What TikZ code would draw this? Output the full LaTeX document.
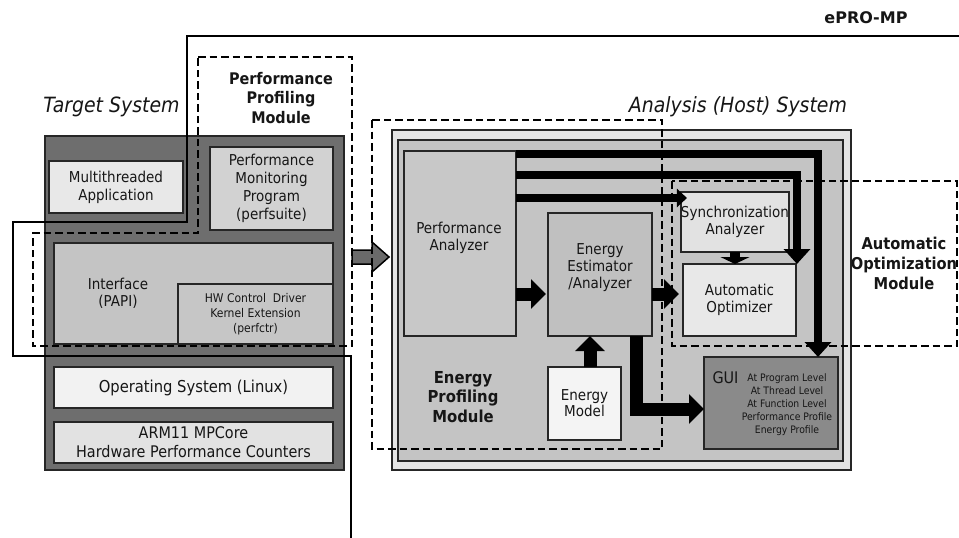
\documentclass[tikz,border=0pt]{standalone}
\usepackage{fontspec}
\setmainfont{DejaVu Sans Condensed}
\newfontfamily\widefont{DejaVu Sans}
\usetikzlibrary{arrows.meta,calc}
\definecolor{txt}{HTML}{161616}
\definecolor{bord}{HTML}{262626}
\definecolor{tgtfill}{HTML}{6E6E6E}
\definecolor{mtafill}{HTML}{E8E8E8}
\definecolor{pmpfill}{HTML}{D2D2D2}
\definecolor{papifill}{HTML}{C4C4C4}
\definecolor{hwfill}{HTML}{C6C6C6}
\definecolor{osfill}{HTML}{F2F2F2}
\definecolor{armfill}{HTML}{E2E2E2}
\definecolor{anaout}{HTML}{E4E4E4}
\definecolor{anain}{HTML}{C4C4C4}
\definecolor{pafill}{HTML}{C8C8C8}
\definecolor{eefill}{HTML}{C0C0C0}
\definecolor{emfill}{HTML}{F4F4F4}
\definecolor{safill}{HTML}{E2E2E2}
\definecolor{aofill}{HTML}{E8E8E8}
\definecolor{guifill}{HTML}{8A8A8A}
\definecolor{arrgray}{HTML}{6A6A6A}
\newcommand\myfs[2]{\fontsize{#1}{#2}\selectfont}
\begin{document}
\begin{tikzpicture}[x=1pt,y=-1pt,
  every node/.style={inner sep=0pt, outer sep=0pt, text=txt},
  box/.style={draw=bord, line width=1.5pt, align=center, font=\myfs{15}{18}},
  lbl/.style={align=center, font=\myfs{15}{17}},
  title/.style={align=center, font=\bfseries\myfs{16.5}{19.5}},
  systitle/.style={font=\itshape\myfs{21}{24}},
  modline/.style={draw=black, line width=2.3pt, dash pattern=on 7.5pt off 4pt, line join=miter},
  epro/.style={draw=black, line width=2.3pt, line join=miter},
  bigarr/.style={draw=black, line width=8pt, line join=miter, -{Triangle[width=26pt,length=15pt]}},
  medarr/.style={draw=black, line width=8pt, -{Triangle[width=18pt,length=10pt]}},
  blockarr/.style={draw=black, line width=13pt, line join=miter, -{Triangle[width=29pt,length=15pt]}},
  smallblock/.style={draw=black, line width=10pt, -{Triangle[width=29pt,length=7pt]}},
]
\useasboundingbox (0,0) rectangle (959,538);
\fill[white] (0,0) rectangle (959,538);

% ---------- Target system ----------
\node[systitle] (tsys) at (111.5,107) {Target System};
\node[box, fill=tgtfill, line width=1.8pt, minimum width=299pt, minimum height=334pt] (tgt) at (194.5,303) {};
\node[box, fill=mtafill, minimum width=134pt, minimum height=52pt] (mta) at (116,187) {Multithreaded\\Application};
\node[box, fill=pmpfill, minimum width=123pt, minimum height=83pt] (pmp) at (271.5,188.5) {Performance\\Monitoring\\Program\\(perfsuite)};
\node[box, fill=papifill, minimum width=279pt, minimum height=101pt] (papi) at (193.5,293.5) {};
\node[lbl] (papilbl) at (118,293) {Interface\\(PAPI)};
\node[box, fill=hwfill, minimum width=155pt, minimum height=60pt, font=\myfs{12}{15}] (hw) at (255.5,314) {HW Control~ Driver\\Kernel Extension\\(perfctr)};
\node[box, fill=osfill, minimum width=279pt, minimum height=41pt, font=\myfs{16.4}{19}] (os) at (193.5,387.5) {Operating System (Linux)};
\node[box, fill=armfill, minimum width=279pt, minimum height=41pt, font=\myfs{16}{19}] (arm) at (193.5,442.5) {ARM11 MPCore\\Hardware Performance Counters};
\node[title, font=\bfseries\myfs{16}{19.5}] (ppmlbl) at (281,98) {Performance\\Profiling\\Module};

% ---------- Analysis system ----------
\node[systitle] (asys) at (738,107) {Analysis (Host) System};
\node[box, fill=anaout, line width=1.8pt, minimum width=459pt, minimum height=340pt] (anaout) at (621.5,300) {};
\node[box, fill=anain, minimum width=445pt, minimum height=321pt] (anain) at (620.5,300.5) {};
\node[box, fill=pafill, minimum width=112pt, minimum height=185pt] (pa) at (460,243.5) {};
\node[lbl] (palbl) at (459,237.5) {Performance\\Analyzer};
\node[box, fill=eefill, minimum width=104pt, minimum height=123pt] (ee) at (600,274.5) {};
\node[lbl] (eelbl) at (600,268) {Energy\\Estimator\\/Analyzer};
\node[box, fill=emfill, minimum width=73pt, minimum height=73pt, font=\myfs{15}{16}] (em) at (584.5,403.5) {Energy\\Model};
\node[box, fill=safill, minimum width=102pt, minimum height=60pt, font=\myfs{15}{17}] (sa) at (735,222) {Synchronization\\Analyzer};
\node[box, fill=aofill, minimum width=113pt, minimum height=72pt, font=\myfs{15}{17}] (ao) at (739.5,300) {Automatic\\Optimizer};
\node[box, fill=guifill, minimum width=134pt, minimum height=92pt] (gui) at (771,403) {};
\node[font=\myfs{16}{18}] (guilbl) at (725.5,378) {GUI};
\node[align=center, font=\myfs{10.3}{13}] (guilist) at (787,405) {At Program Level\\At Thread Level\\At Function Level\\Performance Profile\\Energy Profile};
\node[title] (epmlbl) at (463,397) {Energy\\Profiling\\Module};
\node[title, font=\bfseries\myfs{16.3}{20}] (aomlbl) at (904,263) {Automatic\\Optimization\\Module};

% ---------- arrows ----------
\draw[bigarr] ([yshift=-3pt]pa.north east) -| ([xshift=47pt]gui.north);
\draw[bigarr] ([yshift=-24pt]pa.north east) -| ([xshift=1pt]ao.north east);
\draw[medarr] ([yshift=-47pt]pa.north east) -- ([xshift=6pt,yshift=-6pt]sa.north west);
\coordinate (a4e) at ([yshift=-19.5pt]ee.west);
\draw[blockarr] (a4e -| pa.east) -- ([xshift=-2pt]a4e);
\coordinate (a5s) at ([yshift=-19.5pt]ee.east);
\draw[blockarr, shorten >=4pt] (a5s) -- (a5s -| ao.west);
\draw[smallblock] (sa.south) -- (sa.south |- ao.north);
\draw[blockarr] ([xshift=5.5pt]em.north) -- ([xshift=5.5pt]em.north |- ee.south);
\draw[blockarr] ([xshift=36pt]ee.south) |- ([yshift=-6pt]gui.west);

% gray transfer arrow between systems
\coordinate (gs) at ([xshift=8pt,yshift=46pt]tgt.east);
\coordinate (ge) at ([xshift=-3pt,yshift=43pt]anaout.west);
\draw[line width=1.5pt, fill=arrgray, line join=miter] (gs) ++(0,-7) -- ++(20,0) -- ++(0,-8) -- (ge) -- ++(-17,15) -- ++(0,-8) -- ++(-20,0) -- cycle;

% ---------- module outlines ----------
\draw[modline] (198,57) -- (352,57) -- (352,346) -- (33,346) -- (33,233) -- (198,233) -- cycle;
\draw[modline] (372,120) rectangle (662,449);
\draw[modline] (672,181) rectangle (957,346);

% ---------- ePRO-MP boundary ----------
\draw[epro] (959,36) -- (187,36) -- (187,222) -- (13,222) -- (13,356) -- (351,356) -- (351,538);
\node[font=\widefont\bfseries\myfs{16}{18}] (eprolbl) at (866,18) {ePRO-MP};
\end{tikzpicture}
\end{document}
